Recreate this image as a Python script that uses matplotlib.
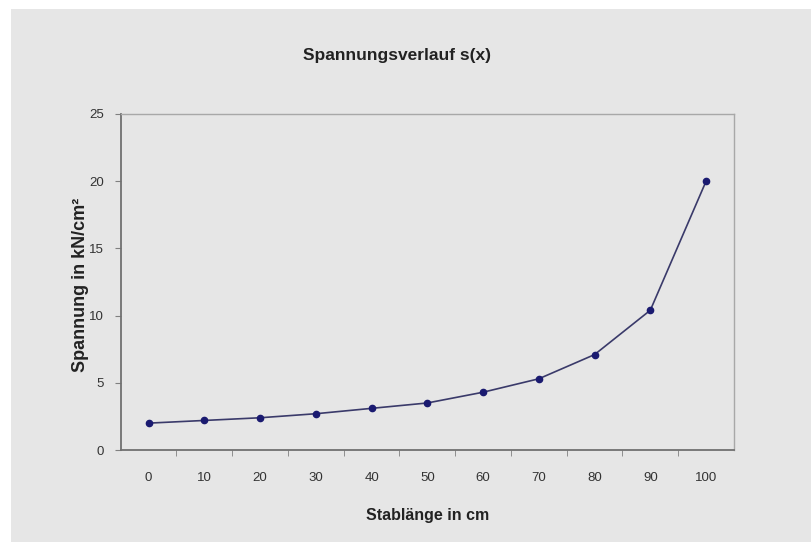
import matplotlib
matplotlib.use("Agg")
import matplotlib.pyplot as plt
from matplotlib.patches import Rectangle

plt.rcParams['font.family'] = ['Liberation Sans', 'DejaVu Sans']

# Stablänge (cm) and stress values
laenge = [0, 10, 20, 30, 40, 50, 60, 70, 80, 90, 100]
spannung = [2.0, 2.2, 2.4, 2.7, 3.1, 3.5, 4.3, 5.3, 7.1, 10.4, 20.0]
y_ticks = [0, 5, 10, 15, 20, 25]

bg = '#e6e6e6'
fig = plt.figure(figsize=(8.11, 5.42), dpi=100, facecolor='white')
fig.patches.append(Rectangle((11 / 811, 0), 1, 1 - 9 / 542, transform=fig.transFigure,
                             facecolor=bg, edgecolor='none', zorder=-10))

ax = fig.add_axes([0.1488, 0.1697, 0.7562, 0.62])
ax.set_facecolor(bg)

pos = list(range(len(laenge)))
ax.plot(pos, spannung, color='#3a3a6a', linewidth=1.2, marker='o', markersize=4.5,
        markerfacecolor='#1a1a70', markeredgecolor='#1a1a70', zorder=3)

ax.set_xlim(-0.5, len(laenge) - 0.5)
ax.set_ylim(0, 25)
ax.set_yticks(y_ticks)
ax.set_yticklabels([str(v) for v in y_ticks], fontsize=9.5, color='#333333')

ax.set_xticks(pos)
ax.set_xticklabels([str(v) for v in laenge], fontsize=9.5, color='#333333')
ax.tick_params(axis='x', which='major', length=0, pad=16)
ax.set_xticks([p + 0.5 for p in pos[:-1]], minor=True)
ax.tick_params(axis='x', which='minor', length=4, color='#808080', direction='out')
ax.tick_params(axis='y', length=4, color='#808080', pad=8, direction='out')

for side in ['left', 'bottom']:
    ax.spines[side].set_color('#707070')
    ax.spines[side].set_linewidth(1.3)
for side in ['top', 'right']:
    ax.spines[side].set_color('#a8a8a8')
    ax.spines[side].set_linewidth(1.0)

fig.text(0.49, 0.898, 'Spannungsverlauf s(x)', ha='center', va='center',
         fontsize=12.5, fontweight='bold', color='#222222')
ax.set_xlabel('Stablänge in cm', fontsize=11.5, fontweight='bold', color='#222222', labelpad=17)
ax.set_ylabel('Spannung in kN/cm²', fontsize=13, fontweight='bold', color='#222222', labelpad=4)
ax.yaxis.set_label_coords(-0.052, 0.49)

fig.savefig('out.png', dpi=100, facecolor='white')
